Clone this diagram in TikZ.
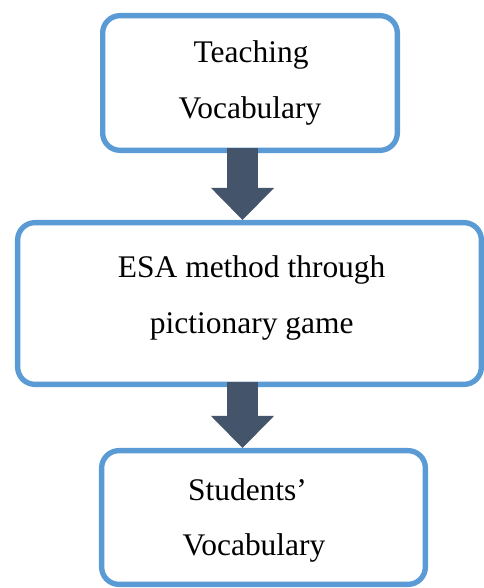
\documentclass[tikz,border=0pt]{standalone}
\usepackage{fontspec}
\setmainfont{Liberation Serif}
\usetikzlibrary{arrows.meta}
\definecolor{boxblue}{RGB}{91,155,213}
\definecolor{arrowslate}{RGB}{68,84,106}
\tikzset{
  flowbox/.style={draw=boxblue, line width=4pt, rounded corners=13pt, fill=white, inner sep=0pt},
  flowarrow/.style={draw=arrowslate, line width=23.25pt, shorten <=-3.5pt,
    -{Triangle[width=47.25pt, length=24pt, line width=0pt]}},
  boxtext/.style={anchor=base, inner sep=0pt, font=\fontsize{23.6pt}{28pt}\selectfont}
}
\begin{document}
\begin{tikzpicture}[x=0.75pt,y=0.75pt,yscale=-1,xscale=1]
\useasboundingbox (0,0) rectangle (484,588);

%Shape: Rounded Rect
\node [flowbox, minimum width=221pt, minimum height=101pt] (teach) at (250,83) {};
%Shape: Rounded Rect
\node [flowbox, minimum width=347.8pt, minimum height=121.3pt] (esa) at (249.5,303.5) {};
%Shape: Rounded Rect
\node [flowbox, minimum width=242.8pt, minimum height=100.3pt] (vocab) at (263.5,517.5) {};

%Block Arrows
\draw [flowarrow] ([xshift=-5.6pt]teach.south) -- ([xshift=-5.6pt]teach.south |- esa.north);
\draw [flowarrow] ([xshift=-5.25pt]esa.south) -- ([xshift=-5.25pt]esa.south |- vocab.north);

% Text Node
\node [boxtext] (teachA) at (251,63) {Teaching};
% Text Node
\node [boxtext] (teachB) at (250,118) {Vocabulary};
% Text Node
\node [boxtext] (esaA) at (251.7,277) {ESA method through};
% Text Node
\node [boxtext] (esaB) at (251.7,333) {pictionary game};
% Text Node
\node [boxtext] (vocabA) at (247.5,500) {Students’};
% Text Node
\node [boxtext] (vocabB) at (254,555) {Vocabulary};
\end{tikzpicture}
\end{document}
